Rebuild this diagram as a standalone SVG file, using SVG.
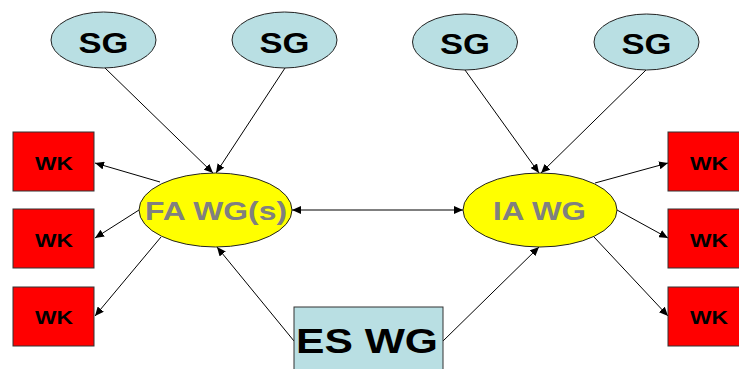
<svg xmlns="http://www.w3.org/2000/svg" width="739" height="369" viewBox="0 0 739 369">
<style>
.sg{fill:#B9DFE3;stroke:#222;stroke-width:1}
.wg{fill:#FFFF00;stroke:#222;stroke-width:1}
.wk{fill:#FF0000;stroke:#333;stroke-width:1}
.es{fill:#B9DFE3;stroke:#333;stroke-width:1}
text{font-family:"Liberation Sans",Arial,sans-serif;font-weight:bold;text-anchor:middle}
.tsg{font-size:29px;fill:#000}
.twk{font-size:18px;fill:#000}
.twg{font-size:26px;fill:#808080}
.tes{font-size:35px;fill:#000}
.c line{stroke:#000;stroke-width:1;fill:none}
</style>
<defs>
<marker id="ah" markerWidth="9" markerHeight="8" refX="9" refY="4" orient="auto" markerUnits="userSpaceOnUse">
<path d="M0,0 L9,4 L0,8 Z" fill="#000"/>
</marker>
<marker id="as" markerWidth="9" markerHeight="8" refX="0" refY="4" orient="auto" markerUnits="userSpaceOnUse">
<path d="M9,0 L0,4 L9,8 Z" fill="#000"/>
</marker>
</defs>
<g class="c" id="connectors">
<line x1="105" y1="68" x2="213" y2="173" marker-end="url(#ah)"/>
<line x1="285" y1="68" x2="216" y2="173" marker-end="url(#ah)"/>
<line x1="465" y1="70" x2="539" y2="173" marker-end="url(#ah)"/>
<line x1="646" y1="70" x2="541" y2="173" marker-end="url(#ah)"/>
<line x1="292" y1="210" x2="463" y2="210" marker-start="url(#as)" marker-end="url(#ah)"/>
<line x1="160" y1="182" x2="95" y2="163" marker-end="url(#ah)"/>
<line x1="139" y1="210" x2="95" y2="238" marker-end="url(#ah)"/>
<line x1="161" y1="237" x2="95" y2="316" marker-end="url(#ah)"/>
<line x1="294" y1="341" x2="217" y2="247" marker-end="url(#ah)"/>
<line x1="443" y1="341" x2="539" y2="247" marker-end="url(#ah)"/>
<line x1="595" y1="183" x2="668" y2="163" marker-end="url(#ah)"/>
<line x1="617" y1="210" x2="668" y2="238" marker-end="url(#ah)"/>
<line x1="594" y1="237" x2="668" y2="316" marker-end="url(#ah)"/>
</g>
<g id="sg1"><ellipse class="sg" cx="103.5" cy="40" rx="52.5" ry="28"/><text class="tsg" x="103.5" y="52.5" textLength="50" lengthAdjust="spacingAndGlyphs">SG</text></g>
<g id="sg2"><ellipse class="sg" cx="284.5" cy="40" rx="52.5" ry="28"/><text class="tsg" x="284.5" y="52.5" textLength="50" lengthAdjust="spacingAndGlyphs">SG</text></g>
<g id="sg3"><ellipse class="sg" cx="465" cy="42" rx="52.5" ry="28"/><text class="tsg" x="465" y="53.5" textLength="50" lengthAdjust="spacingAndGlyphs">SG</text></g>
<g id="sg4"><ellipse class="sg" cx="646.5" cy="42" rx="52.5" ry="28"/><text class="tsg" x="646.5" y="53.5" textLength="50" lengthAdjust="spacingAndGlyphs">SG</text></g>
<g id="wk-l1"><rect class="wk" x="13" y="132" width="81" height="59"/><text class="twk" x="54" y="170" textLength="38" lengthAdjust="spacingAndGlyphs">WK</text></g>
<g id="wk-l2"><rect class="wk" x="13" y="209" width="81" height="59"/><text class="twk" x="54" y="247" textLength="38" lengthAdjust="spacingAndGlyphs">WK</text></g>
<g id="wk-l3"><rect class="wk" x="13" y="287" width="81" height="59"/><text class="twk" x="54" y="324" textLength="38" lengthAdjust="spacingAndGlyphs">WK</text></g>
<g id="wk-r1"><rect class="wk" x="668" y="132" width="81" height="59"/><text class="twk" x="709" y="170" textLength="38" lengthAdjust="spacingAndGlyphs">WK</text></g>
<g id="wk-r2"><rect class="wk" x="668" y="209" width="81" height="59"/><text class="twk" x="709" y="247" textLength="38" lengthAdjust="spacingAndGlyphs">WK</text></g>
<g id="wk-r3"><rect class="wk" x="668" y="287" width="81" height="59"/><text class="twk" x="709" y="324" textLength="38" lengthAdjust="spacingAndGlyphs">WK</text></g>
<g id="fa-wg"><ellipse class="wg" cx="215.5" cy="210" rx="76.5" ry="37"/><text class="twg" x="216" y="220" textLength="142" lengthAdjust="spacingAndGlyphs">FA WG(s)</text></g>
<g id="ia-wg"><ellipse class="wg" cx="540" cy="210" rx="77" ry="37"/><text class="twg" x="539.5" y="220" textLength="93" lengthAdjust="spacingAndGlyphs">IA WG</text></g>
<g id="es-wg"><rect class="es" x="294" y="307" width="149" height="75"/><text class="tes" x="367" y="353" textLength="142" lengthAdjust="spacingAndGlyphs">ES WG</text></g>
</svg>
